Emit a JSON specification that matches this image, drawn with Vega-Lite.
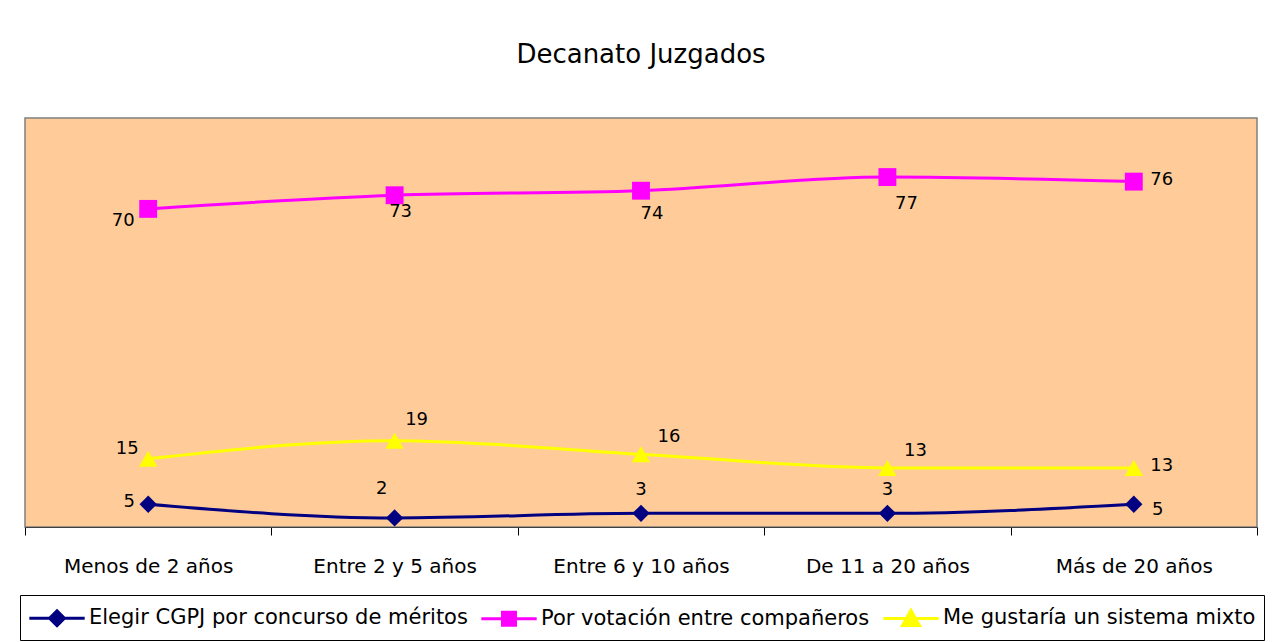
{
  "$schema": "https://vega.github.io/schema/vega-lite/v6.json",
  "autosize": "none",
  "width": 1232,
  "height": 409,
  "padding": {"left": 25, "top": 118, "right": 18, "bottom": 115},
  "background": "white",
  "title": {"text": "Decanato Juzgados", "font": "DejaVu Sans", "fontSize": 26, "fontWeight": "normal", "color": "black", "anchor": "middle", "baseline": "alphabetic", "offset": 29},
  "config": {
    "view": {"fill": "#FFCC99", "stroke": "#808080", "strokeWidth": 1.5},
    "font": "DejaVu Sans"
  },
  "data": {"values": [
    {"cat": "Menos de 2 años", "serie": "Elegir CGPJ por concurso de méritos", "v": 5},
    {"cat": "Entre 2 y 5 años", "serie": "Elegir CGPJ por concurso de méritos", "v": 2},
    {"cat": "Entre 6 y 10 años", "serie": "Elegir CGPJ por concurso de méritos", "v": 3},
    {"cat": "De 11 a 20 años", "serie": "Elegir CGPJ por concurso de méritos", "v": 3},
    {"cat": "Más de 20 años", "serie": "Elegir CGPJ por concurso de méritos", "v": 5},
    {"cat": "Menos de 2 años", "serie": "Por votación entre compañeros", "v": 70},
    {"cat": "Entre 2 y 5 años", "serie": "Por votación entre compañeros", "v": 73},
    {"cat": "Entre 6 y 10 años", "serie": "Por votación entre compañeros", "v": 74},
    {"cat": "De 11 a 20 años", "serie": "Por votación entre compañeros", "v": 77},
    {"cat": "Más de 20 años", "serie": "Por votación entre compañeros", "v": 76},
    {"cat": "Menos de 2 años", "serie": "Me gustaría un sistema mixto", "v": 15},
    {"cat": "Entre 2 y 5 años", "serie": "Me gustaría un sistema mixto", "v": 19},
    {"cat": "Entre 6 y 10 años", "serie": "Me gustaría un sistema mixto", "v": 16},
    {"cat": "De 11 a 20 años", "serie": "Me gustaría un sistema mixto", "v": 13},
    {"cat": "Más de 20 años", "serie": "Me gustaría un sistema mixto", "v": 13}
  ]},
  "encoding": {
    "x": {"field": "cat", "type": "nominal", "sort": null,
      "scale": {"type": "band", "paddingInner": 0, "paddingOuter": 0},
      "axis": {"title": null, "labelAngle": 0, "labelFont": "DejaVu Sans", "labelFontSize": 20, "labelColor": "black", "labelPadding": 21, "tickBand": "extent", "tickSize": 8, "tickColor": "black", "domainColor": "#404040", "labelLimit": 300}},
    "y": {"field": "v", "type": "quantitative", "scale": {"domain": [0, 90], "nice": false, "zero": true}, "axis": null}
  },
  "layer": [
    {
      "mark": {"type": "line", "interpolate": "monotone", "strokeWidth": 3},
      "encoding": {
        "color": {"field": "serie", "type": "nominal",
          "scale": {"domain": ["Elegir CGPJ por concurso de méritos", "Por votación entre compañeros", "Me gustaría un sistema mixto"], "range": ["#000080", "#FF00FF", "#FFFF00"]},
          "legend": {"title": null, "orient": "none", "legendX": -5, "legendY": 477, "direction": "horizontal",
            "strokeColor": "black", "fillColor": "white", "padding": 8,
            "labelFont": "DejaVu Sans", "labelFontSize": 21, "labelColor": "black", "labelLimit": 0,
            "symbolSize": 729, "symbolOffset": 14, "labelOffset": 17, "columnPadding": 7,
            "encode": {"symbols": {"update": {
              "shape": {"signal": "datum.value === 'Elegir CGPJ por concurso de méritos' ? 'M-2.05,0L2.05,0M0,-0.55L0.55,0L0,0.55L-0.55,0Z' : datum.value === 'Por votación entre compañeros' ? 'M-2.05,0L2.05,0M-0.48,-0.48L0.48,-0.48L0.48,0.48L-0.48,0.48Z' : 'M-2.05,0L2.05,0M0,-0.6L0.63,0.52L-0.63,0.52Z'"},
              "fill": {"scale": "color", "field": "value"},
              "stroke": {"scale": "color", "field": "value"},
              "strokeWidth": {"value": 3},
              "opacity": {"value": 1},
              "fillOpacity": {"value": 1}
            }}}
          }}
      }
    },
    {
      "transform": [{"filter": "datum.serie === 'Elegir CGPJ por concurso de méritos'"}],
      "mark": {"type": "point", "filled": true, "opacity": 1, "size": 300, "shape": "diamond", "color": "#000080"}
    },
    {
      "transform": [{"filter": "datum.serie === 'Por votación entre compañeros'"}],
      "mark": {"type": "point", "filled": true, "opacity": 1, "size": 320, "shape": "square", "color": "#FF00FF"}
    },
    {
      "transform": [{"filter": "datum.serie === 'Me gustaría un sistema mixto'"}],
      "mark": {"type": "point", "filled": true, "opacity": 1, "size": 340, "shape": "triangle-up", "color": "#FFFF00"}
    },
    {
      "transform": [{"filter": "datum.serie === 'Por votación entre compañeros' && datum.cat === 'Menos de 2 años'"}],
      "mark": {"type": "text", "fontSize": 18, "color": "black", "dx": -25, "dy": 12},
      "encoding": {"text": {"field": "v"}}
    },
    {
      "transform": [{"filter": "datum.serie === 'Por votación entre compañeros' && datum.cat === 'Entre 2 y 5 años'"}],
      "mark": {"type": "text", "fontSize": 18, "color": "black", "dx": 6, "dy": 17},
      "encoding": {"text": {"field": "v"}}
    },
    {
      "transform": [{"filter": "datum.serie === 'Por votación entre compañeros' && datum.cat === 'Entre 6 y 10 años'"}],
      "mark": {"type": "text", "fontSize": 18, "color": "black", "dx": 11, "dy": 23},
      "encoding": {"text": {"field": "v"}}
    },
    {
      "transform": [{"filter": "datum.serie === 'Por votación entre compañeros' && datum.cat === 'De 11 a 20 años'"}],
      "mark": {"type": "text", "fontSize": 18, "color": "black", "dx": 19, "dy": 27},
      "encoding": {"text": {"field": "v"}}
    },
    {
      "transform": [{"filter": "datum.serie !== 'Elegir CGPJ por concurso de méritos' && datum.cat === 'Más de 20 años'"}],
      "mark": {"type": "text", "fontSize": 18, "color": "black", "dx": 28, "dy": -2},
      "encoding": {"text": {"field": "v"}}
    },
    {
      "transform": [{"filter": "datum.serie === 'Elegir CGPJ por concurso de méritos' && datum.cat === 'Más de 20 años'"}],
      "mark": {"type": "text", "fontSize": 18, "color": "black", "dx": 24, "dy": 6},
      "encoding": {"text": {"field": "v"}}
    },
    {
      "transform": [{"filter": "datum.serie === 'Me gustaría un sistema mixto' && datum.cat === 'Menos de 2 años'"}],
      "mark": {"type": "text", "fontSize": 18, "color": "black", "dx": -21, "dy": -10},
      "encoding": {"text": {"field": "v"}}
    },
    {
      "transform": [{"filter": "datum.serie === 'Me gustaría un sistema mixto' && datum.cat === 'Entre 2 y 5 años'"}],
      "mark": {"type": "text", "fontSize": 18, "color": "black", "dx": 22, "dy": -21},
      "encoding": {"text": {"field": "v"}}
    },
    {
      "transform": [{"filter": "datum.serie === 'Me gustaría un sistema mixto' && (datum.cat === 'Entre 6 y 10 años' || datum.cat === 'De 11 a 20 años')"}],
      "mark": {"type": "text", "fontSize": 18, "color": "black", "dx": 28, "dy": -17},
      "encoding": {"text": {"field": "v"}}
    },
    {
      "transform": [{"filter": "datum.serie === 'Elegir CGPJ por concurso de méritos' && datum.cat === 'Menos de 2 años'"}],
      "mark": {"type": "text", "fontSize": 18, "color": "black", "dx": -19, "dy": -2},
      "encoding": {"text": {"field": "v"}}
    },
    {
      "transform": [{"filter": "datum.serie === 'Elegir CGPJ por concurso de méritos' && datum.cat === 'Entre 2 y 5 años'"}],
      "mark": {"type": "text", "fontSize": 18, "color": "black", "dx": -13, "dy": -29},
      "encoding": {"text": {"field": "v"}}
    },
    {
      "transform": [{"filter": "datum.serie === 'Elegir CGPJ por concurso de méritos' && (datum.cat === 'Entre 6 y 10 años' || datum.cat === 'De 11 a 20 años')"}],
      "mark": {"type": "text", "fontSize": 18, "color": "black", "dx": 0, "dy": -23},
      "encoding": {"text": {"field": "v"}}
    }
  ]
}
